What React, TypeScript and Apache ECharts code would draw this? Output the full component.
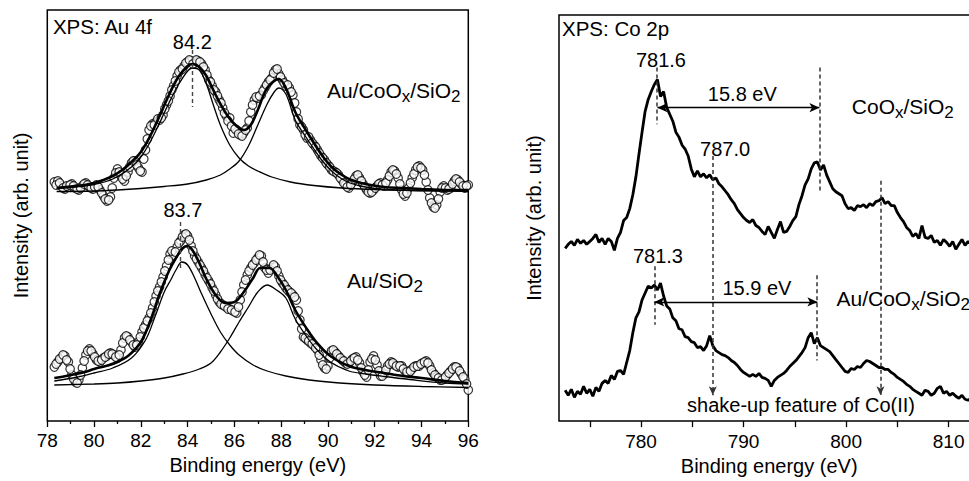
import React, { useEffect, useRef } from "react";
import * as echarts from "echarts";

const FONT = "'Liberation Sans', Arial, Helvetica, sans-serif";
const NARROW = "'Liberation Sans Narrow', 'Arial Narrow', 'Liberation Sans', Arial, sans-serif";

// ---------- Left panel: XPS Au 4f ----------
const auTicks = { min: 78, max: 96, interval: 2 };
const auGridStep = 0.15;
const auGridStartA = 78.3;
const auGridStartB = 78.375;

// measured points (open circles), Au/CoOx/SiO2 — two interleaved energy grids
const auCoPointsA = [
  239, 240, 235, 232, 234, 237, 233, 231, 235, 238,
  234, 232, 236, 231, 225, 220, 224, 243, 252, 245,
  240, 249, 258, 260, 253, 249, 271, 291, 297, 299,
  301, 306, 316, 325, 335, 345, 351, 355, 359, 360,
  358, 360, 357, 351, 341, 335, 329, 321, 313, 305,
  303, 288, 291, 286, 288, 293, 309, 321, 323, 326,
  333, 339, 343, 351, 347, 341, 335, 333, 326, 309,
  296, 291, 283, 281, 276, 271, 265, 261, 256, 251,
  249, 246, 241, 236, 233, 239, 245, 243, 237, 231,
  228, 231, 235, 238, 235, 241, 249, 250, 243, 231,
  225, 233, 243, 251, 255, 251, 239, 223, 214, 216,
  229, 235, 231, 233, 240, 241, 237, 233, 236,
];
const auCoPointsB = [
  236, 238, 233, 235, 236, 235, 232, 233, 237, 236,
  233, 234, 234, 228, 222, 221, 233, 248, 249, 242,
  245, 254, 260, 256, 250, 262, 282, 295, 296, 302,
  303, 312, 320, 331, 340, 349, 352, 358, 361, 357,
  361, 359, 354, 346, 339, 331, 325, 318, 308, 300,
  295, 292, 287, 285, 291, 300, 316, 324, 325, 330,
  336, 341, 348, 352, 344, 338, 336, 329, 318, 302,
  294, 286, 284, 278, 274, 268, 263, 258, 254, 250,
  248, 243, 238, 234, 236, 242, 246, 240, 234, 229,
  229, 233, 237, 236, 238, 245, 251, 247, 237, 227,
  228, 238, 247, 254, 253, 246, 231, 218, 213, 222,
  233, 233, 232, 237, 242, 239, 235, 235,
];
// measured points (open circles), Au/SiO2
const auSiPointsA = [
  54, 59, 63, 65, 59, 46, 39, 41, 53, 66,
  72, 67, 61, 59, 63, 65, 68, 66, 63, 71,
  83, 84, 79, 74, 79, 89, 96, 103, 113, 125,
  134, 144, 155, 167, 166, 174, 180, 186, 185, 175,
  165, 159, 153, 146, 140, 133, 126, 119, 116, 114,
  112, 110, 108, 121, 136, 146, 153, 158, 163, 165,
  153, 148, 153, 154, 145, 138, 133, 129, 126, 121,
  101, 84, 81, 78, 75, 71, 61, 53, 55, 70,
  69, 65, 61, 58, 58, 62, 64, 58, 49, 44,
  59, 65, 56, 45, 47, 55, 59, 56, 54, 55,
  50, 48, 52, 55, 55, 58, 60, 55, 48, 44,
  41, 42, 46, 50, 54, 53, 47, 42, 31,
];
const auSiPointsB = [
  57, 62, 66, 61, 52, 42, 38, 46, 60, 70,
  70, 64, 60, 61, 64, 67, 67, 64, 66, 78,
  85, 81, 76, 76, 84, 93, 100, 108, 119, 130,
  139, 150, 161, 170, 169, 178, 184, 187, 181, 170,
  162, 156, 150, 143, 137, 130, 122, 117, 115, 112,
  111, 109, 114, 129, 141, 150, 156, 161, 166, 159,
  151, 151, 156, 150, 141, 136, 131, 128, 124, 110,
  92, 83, 80, 77, 73, 66, 56, 52, 63, 71,
  67, 63, 60, 57, 60, 63, 61, 53, 46, 51,
  62, 61, 50, 45, 51, 57, 58, 55, 55, 52,
  49, 50, 54, 55, 57, 59, 58, 51, 46, 43,
  41, 44, 48, 52, 54, 50, 44, 37,
];

// fitted envelope and components [E, intensity]
const auCoFit = [[78.4,233],[78.8,234],[79.2,235],[79.6,236],[80.0,238],[80.4,241],[80.8,245],[81.2,251],[81.6,259],[82.0,269],[82.4,285],[82.8,305],[83.2,326],[83.6,344],[84.0,355],[84.2,357],[84.5,354],[84.8,345],[85.2,326],[85.6,309],[86.0,297],[86.4,291],[86.7,296],[87.0,311],[87.4,333],[87.9,342],[88.2,333],[88.6,309],[89.0,293],[89.4,278],[89.8,264],[90.2,253],[90.6,246],[91.0,241],[91.6,237],[92.4,234],[93.2,233],[94.0,232],[95.0,231],[96.0,231]];
const auCoPeak1 = [[78.4,232.5],[79.2,234],[80.0,236.5],[80.8,242],[81.6,254],[82.0,264],[82.4,279],[82.8,298],[83.2,318],[83.6,336],[84.0,350],[84.2,353],[84.5,351],[84.8,337],[85.1,316],[85.4,296],[85.8,276],[86.2,263],[86.6,255],[87.0,250],[87.6,244],[88.4,239],[89.4,235.5],[90.6,233],[92.0,231.5],[94.0,230.5],[96.0,230]];
const auCoPeak2 = [[78.4,229.5],[80.0,230],[81.0,231],[82.0,232.5],[83.0,234.5],[84.0,237],[84.8,241],[85.4,246],[85.8,252],[86.2,260],[86.6,275],[87.0,296],[87.4,317],[87.7,329],[87.9,333],[88.2,327],[88.6,301],[89.0,286],[89.4,272],[89.8,259],[90.2,249],[90.6,242],[91.0,237.5],[91.6,234],[92.4,231.5],[93.5,230.5],[95.0,230],[96.0,229.5]];
const auSiFit = [[78.3,43],[78.8,45],[79.2,47],[79.6,49],[80.0,52],[80.5,55],[81.0,59],[81.5,66],[82.0,79],[82.4,100],[82.8,127],[83.2,150],[83.5,163],[83.8,173],[84.0,175],[84.2,171],[84.5,158],[84.8,142],[85.2,126],[85.6,118],[86.0,119],[86.4,129],[86.8,143],[87.1,153],[87.5,153],[87.8,146],[88.2,131],[88.6,111],[89.1,92],[89.5,79],[90.1,65],[90.9,55],[91.6,51],[92.4,48],[93.2,45],[94.0,43],[95.0,40],[96.0,38]];
const auSiPeak1 = [[78.3,40],[79.2,43.5],[80.0,48],[80.8,53],[81.6,63],[82.2,81],[82.6,104],[83.0,129],[83.3,142],[83.5,151],[83.75,159],[84.0,156],[84.3,143],[84.6,127],[85.0,107],[85.4,89],[85.8,76],[86.2,66],[86.8,56],[87.4,50],[88.2,45],[89.2,41],[90.5,38],[92.0,36],[94.0,34.5],[96.0,33.5]];
const auSiPeak2 = [[78.3,36],[80.0,37],[81.0,38],[82.0,40],[83.0,43],[83.8,47],[84.5,52],[85.0,58],[85.4,69],[85.8,83],[86.2,99],[86.6,114],[87.0,129],[87.4,136],[87.8,131],[88.2,123],[88.6,102],[89.1,84],[89.5,72],[90.1,59],[90.9,50],[91.6,47],[92.4,44.5],[93.5,41.5],[95.0,38],[96.0,37]];

// ---------- Right panel: XPS Co 2p ----------
const coTickValues = [775, 780, 785, 790, 795, 800, 805, 810];
const coLabelValues = [780, 790, 800, 810];
const coGridStart = 772.6;
const coGridStep = 0.3;
const coOxSpectrum = [
  174, 178, 181, 177, 183, 179, 182, 178, 181, 184,
  188, 180, 184, 178, 184, 181, 172, 184, 190, 202,
  205, 214, 228, 246, 269, 291, 312, 324, 332, 339,
  344, 327, 332, 316, 309, 302, 291, 286, 278, 274,
  267, 254, 246, 252, 246, 249, 245, 248, 243, 245,
  239, 236, 232, 228, 223, 219, 213, 209, 205, 202,
  200, 203, 197, 195, 191, 188, 196, 190, 184, 193,
  201, 190, 191, 196, 202, 206, 218, 227, 238, 244,
  254, 260, 261, 253, 258, 248, 241, 234, 231, 229,
  227, 219, 214, 215, 212, 217, 216, 218, 215, 219,
  217, 221, 222, 225, 219, 221, 217, 217, 210, 205,
  201, 195, 192, 186, 189, 184, 197, 185, 184, 187,
  180, 182, 177, 183, 180, 176, 181, 173, 178, 183,
  177, 181, 178,
];
const auCoOxSpectrum = [
  31, 26, 32, 24, 30, 27, 35, 28, 32, 25,
  34, 30, 38, 41, 38, 46, 42, 50, 51, 47,
  59, 71, 89, 104, 110, 122, 129, 136, 134, 137,
  132, 139, 126, 116, 113, 104, 101, 93, 92, 85,
  84, 80, 79, 74, 75, 71, 76, 86, 76, 71,
  69, 67, 66, 64, 61, 59, 56, 52, 49, 47,
  45, 47, 45, 48, 44, 43, 41, 35, 41, 44,
  46, 48, 51, 55, 58, 61, 65, 69, 74, 84,
  89, 78, 84, 76, 74, 72, 70, 66, 62, 58,
  54, 50, 49, 53, 52, 55, 54, 58, 61, 60,
  58, 56, 54, 54, 52, 52, 49, 47, 44, 42,
  40, 37, 35, 32, 30, 28, 26, 31, 30, 26,
  28, 33, 35, 28, 30, 26, 28, 25, 23, 26,
  22, 21, 23,
];

type Ann = { g: number; e: number; v: number; text?: string; parts?: string[]; align: string; size?: number };
const annotations: Ann[] = [
  { g: 0, e: 78.24, v: 395, text: "XPS: Au 4f", align: "left", size: 20.5 },
  { g: 0, e: 84.2, v: 379, text: "84.2", align: "center", size: 20 },
  { g: 0, e: 83.8, v: 211, text: "83.7", align: "center", size: 20 },
  { g: 0, e: 89.96, v: 331, parts: ["Au/CoO", "x", "/SiO", "2"], align: "left" },
  { g: 0, e: 90.81, v: 140.5, parts: ["Au/SiO", "2"], align: "left" },
  { g: 1, e: 772.29, v: 395, text: "XPS: Co 2p", align: "left", size: 20.5 },
  { g: 1, e: 781.94, v: 364, text: "781.6", align: "center", size: 20 },
  { g: 1, e: 789.88, v: 329, text: "15.8 eV", align: "center", size: 20 },
  { g: 1, e: 788.2, v: 274, text: "787.0", align: "center", size: 20 },
  { g: 1, e: 800.56, v: 316.5, parts: ["CoO", "x", "/SiO", "2"], align: "left" },
  { g: 1, e: 781.65, v: 166, text: "781.3", align: "center", size: 20 },
  { g: 1, e: 791.3, v: 134, text: "15.9 eV", align: "center", size: 20 },
  { g: 1, e: 799.06, v: 123.5, parts: ["Au/CoO", "x", "/SiO", "2"], align: "left" },
  { g: 1, e: 795.6, v: 16.5, text: "shake-up feature of Co(II)", align: "center", size: 20 },
];

const onGrid = (start: number, step: number, values: number[]) =>
  values.map((v, i) => [Number((start + i * step).toFixed(3)), v]);

export default function App() {
  const ref = useRef<HTMLDivElement>(null);
  useEffect(() => {
    if (!ref.current) return;
    const chart = echarts.init(ref.current, undefined, { renderer: "svg" });

    const scatter = (data: number[][]) => ({
      type: "scatter", xAxisIndex: 0, yAxisIndex: 0, data, symbol: "circle", symbolSize: 8.5,
      itemStyle: { color: "#fff", borderColor: "#000", borderWidth: 1.2 }, z: 2, silent: true,
    });
    const fit = (data: number[][], width: number, extra: any = {}) => ({
      type: "line", xAxisIndex: 0, yAxisIndex: 0, data, smooth: 0.35, symbol: "none", showSymbol: false,
      lineStyle: { color: "#000", width }, z: 3, silent: true, ...extra,
    });
    const dashL = { color: "#444", width: 1.4, type: [4, 3] };
    const dashR = { color: "#333", width: 1.5, type: [4, 3] };
    const solidArrow = { color: "#000", width: 1.3, type: "solid" };

    const axisName = { color: "#000", fontSize: 20, fontFamily: FONT };

    const option: any = {
      animation: false,
      backgroundColor: "#fff",
      grid: [
        { left: 47.3, top: 10, width: 421, height: 411, show: true, borderColor: "#000", borderWidth: 1.5, backgroundColor: "transparent" },
        { left: 559, top: 15, width: 420.4, height: 409, show: true, borderColor: "#000", borderWidth: 1.5, backgroundColor: "transparent" },
      ],
      xAxis: [
        {
          type: "value", gridIndex: 0, min: auTicks.min, max: auTicks.max, interval: auTicks.interval,
          axisLine: { show: false, onZero: false },
          axisTick: { show: true, inside: false, length: 6, lineStyle: { color: "#000", width: 1.3 } },
          minorTick: { show: true, splitNumber: 2, length: 3, lineStyle: { color: "#000", width: 1.3 } },
          axisLabel: { color: "#000", fontSize: 19, fontFamily: NARROW, margin: 10 },
          splitLine: { show: false }, minorSplitLine: { show: false },
          name: "Binding energy (eV)", nameLocation: "middle", nameGap: 33, nameTextStyle: axisName,
        },
        {
          type: "value", gridIndex: 1, min: 772, max: 813,
          axisLine: { show: false, onZero: false },
          axisTick: { show: true, inside: false, length: 6, customValues: coTickValues, lineStyle: { color: "#000", width: 1.3 } },
          axisLabel: { color: "#000", fontSize: 19, fontFamily: NARROW, margin: 11, customValues: coLabelValues },
          splitLine: { show: false },
          name: "Binding energy (eV)", nameLocation: "middle", nameGap: 30, nameTextStyle: axisName,
        },
      ],
      yAxis: [
        {
          type: "value", gridIndex: 0, min: 0, max: 411,
          axisLine: { show: false }, axisTick: { show: false }, axisLabel: { show: false }, splitLine: { show: false },
          name: "Intensity (arb. unit)", nameLocation: "middle", nameGap: 16, nameTextStyle: axisName,
        },
        {
          type: "value", gridIndex: 1, min: 0, max: 409,
          axisLine: { show: false }, axisTick: { show: false }, axisLabel: { show: false }, splitLine: { show: false },
          name: "Intensity (arb. unit)", nameLocation: "middle", nameGap: 15, nameTextStyle: axisName,
        },
      ],
      series: [
        scatter([...onGrid(auGridStartA, auGridStep, auCoPointsA), ...onGrid(auGridStartB, auGridStep, auCoPointsB)]),
        scatter([...onGrid(auGridStartA, auGridStep, auSiPointsA), ...onGrid(auGridStartB, auGridStep, auSiPointsB)]),
        fit(auCoPeak1, 1.3),
        fit(auCoPeak2, 1.3),
        fit(auSiPeak1, 1.3),
        fit(auSiPeak2, 1.3),
        fit(auCoFit, 2.6, {
          markLine: {
            silent: true, symbol: ["none", "none"], label: { show: false }, lineStyle: dashL,
            data: [
              [{ coord: [84.2, 371] }, { coord: [84.2, 314] }],
              [{ coord: [83.7, 199] }, { coord: [83.7, 151] }],
            ],
          },
        }),
        fit(auSiFit, 2.6),
        {
          type: "line", xAxisIndex: 1, yAxisIndex: 1, data: onGrid(coGridStart, coGridStep, coOxSpectrum),
          symbol: "none", showSymbol: false, lineStyle: { color: "#000", width: 2.8 }, z: 3, silent: true,
          markLine: {
            silent: true, symbol: ["none", "none"], label: { show: false }, lineStyle: dashR,
            data: [
              [{ coord: [781.55, 356] }, { coord: [781.55, 299] }],
              [{ coord: [797.4, 356] }, { coord: [797.4, 232] }],
              [{ coord: [781.35, 156] }, { coord: [781.35, 97] }],
              [{ coord: [797.1, 147] }, { coord: [797.1, 61] }],
              [{ coord: [787.0, 267] }, { coord: [787.0, 26], symbol: "arrow", symbolSize: [6, 9] }],
              [{ coord: [803.35, 242] }, { coord: [803.35, 26], symbol: "arrow", symbolSize: [6, 9] }],
              [
                { coord: [781.6, 315.7], symbol: "arrow", symbolSize: [7, 10], lineStyle: solidArrow },
                { coord: [797.4, 315.7], symbol: "arrow", symbolSize: [7, 10], lineStyle: solidArrow },
              ],
              [
                { coord: [781.3, 120], symbol: "arrow", symbolSize: [7, 10], lineStyle: solidArrow },
                { coord: [797.2, 120], symbol: "arrow", symbolSize: [7, 10], lineStyle: solidArrow },
              ],
            ],
          },
        },
        {
          type: "line", xAxisIndex: 1, yAxisIndex: 1, data: onGrid(coGridStart, coGridStep, auCoOxSpectrum),
          symbol: "none", showSymbol: false, lineStyle: { color: "#000", width: 2.8 }, z: 3, silent: true,
        },
      ],
    };
    chart.setOption(option);

    const graphics = annotations.map((a) => {
      const p = chart.convertToPixel({ xAxisIndex: a.g, yAxisIndex: a.g } as any, [a.e, a.v]) as number[];
      if (a.parts) {
        const text = a.parts.map((s, i) => (i % 2 === 0 ? `{m|${s}}` : `{s|${s}}`)).join("");
        return {
          type: "text", x: p[0], y: p[1], z: 100, silent: true,
          style: {
            text, align: a.align, verticalAlign: "middle",
            rich: {
              m: { fontSize: 21, fontFamily: FONT, fill: "#000", lineHeight: 24 },
              s: { fontSize: 17, fontFamily: FONT, fill: "#000", lineHeight: 24, padding: [12, 0, 0, 0] },
            },
          },
        };
      }
      return {
        type: "text", x: p[0], y: p[1], z: 100, silent: true,
        style: { text: a.text, align: a.align, verticalAlign: "middle", fontSize: a.size, fontFamily: FONT, fill: "#000" },
      };
    });
    chart.setOption({ graphic: graphics });

    return () => chart.dispose();
  }, []);

  return (
    <div style={{ position: "absolute", left: 0, top: 0, width: 969, height: 481, overflow: "hidden", background: "#fff" }}>
      <div ref={ref} style={{ width: 1000, height: 481 }} />
    </div>
  );
}
